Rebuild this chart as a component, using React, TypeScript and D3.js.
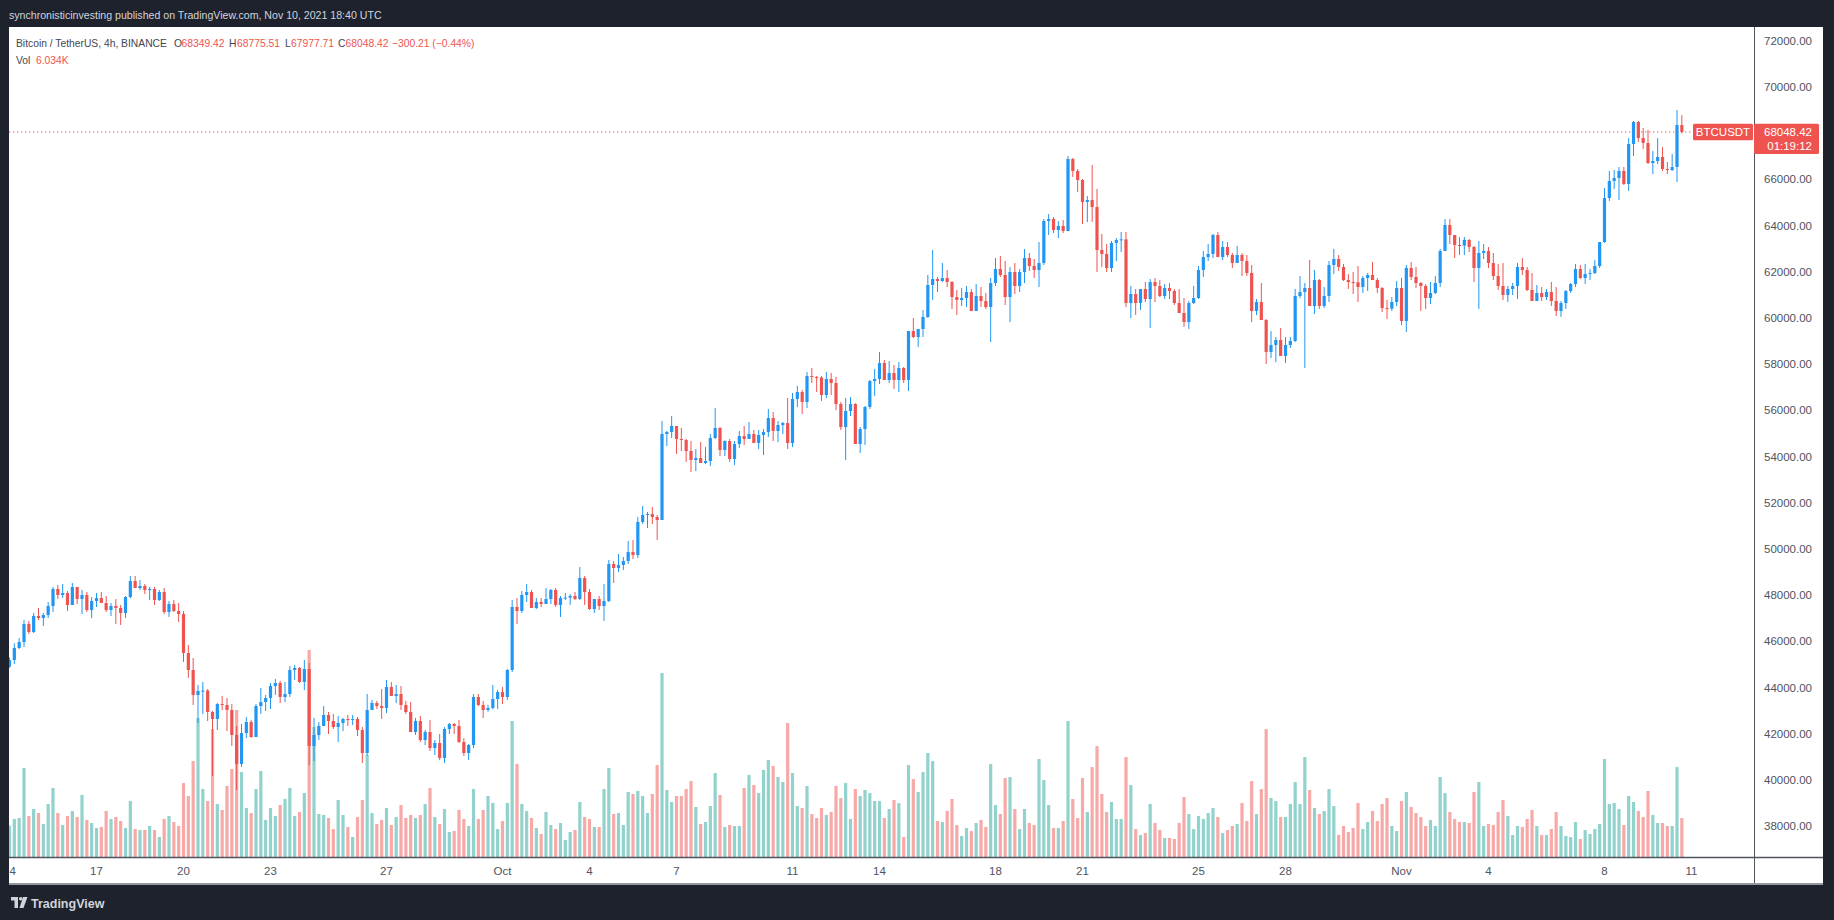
import React, { useEffect, useRef } from "react";
import * as d3 from "d3";

// 4h BTCUSDT candles, Sep 14 2021 00:00 UTC -> Nov 10 2021 16:00 UTC (open = previous close)
const SERIES_START = Date.UTC(2021, 8, 14);
const BAR_MS = 4 * 3600 * 1000;
const DAY_MS = 24 * 3600 * 1000;
const FIRST_OPEN = 44901;

const closes = [
	45190, 45710, 45969, 46748, 46402, 47095, 47008, 47138, 47528, 48264,
	48004, 48090, 47571, 48350, 47831, 48004, 47354, 47744, 47874, 47658,
	47354, 47528, 47441, 47225, 47917, 48610, 48307, 48394, 48220, 48264,
	47787, 48134, 47268, 47614, 47311, 47181, 45493, 44757, 43675, 43848,
	43870, 42939, 42636, 43285, 43242, 43025, 41943, 40688, 42030, 42506,
	41857, 43199, 43372, 43545, 44065, 44195, 43589, 43718, 44757, 44844,
	44238, 44801, 41467, 41944, 42333, 42809, 42550, 42290, 42463, 42636,
	42593, 42636, 42160, 41164, 43026, 43329, 43199, 43112, 44021, 43632,
	43718, 43242, 42939, 42073, 42550, 41727, 42073, 41381, 41597, 40948,
	42203, 42420, 42333, 41641, 41164, 41511, 43589, 43242, 43026, 43112,
	43502, 43805, 43589, 44758, 47485, 47312, 48004, 48134, 47442, 47701,
	47615, 47831, 48221, 47572, 47874, 47890, 47961, 47831, 48740, 48134,
	47398, 47831, 47528, 47745, 49347, 49173, 49303, 49476, 49866, 49736,
	51165, 51468, 51511, 51381, 51251, 54974, 55061, 55320, 54758, 54715,
	54238, 53849, 53935, 53719, 53805, 54801, 55234, 54282, 54671, 53892,
	54541, 54887, 54757, 54974, 54584, 54930, 55060, 55666, 55104, 55363,
	55450, 54584, 56489, 56792, 56359, 57485, 57442, 57420, 56662, 57355,
	57182, 56272, 55277, 55969, 56272, 54541, 55190, 56143, 57268, 57355,
	58047, 57312, 57614, 57312, 57831, 57312, 59433, 59173, 59519, 60039,
	61424, 61684, 61597, 61727, 61554, 60904, 60775, 60861, 61121, 60298,
	60948, 60731, 60471, 61510, 62116, 61857, 60904, 61987, 61381, 61987,
	62593, 62247, 62073, 62376, 64194, 64281, 63805, 63978, 63762, 66878,
	66359, 65969, 65017, 65103, 64800, 62939, 62766, 62160, 63242, 63372,
	63400, 60645, 61034, 60645, 61251, 60818, 61554, 61381, 60948, 61294,
	61164, 60645, 60212, 59822, 60645, 60861, 62073, 62636, 62766, 63589,
	62636, 63069, 62723, 62377, 62723, 62463, 61944, 60299, 60688, 59909,
	58524, 58827, 59043, 58351, 58827, 59000, 60948, 61121, 61294, 60515,
	61641, 60515, 60948, 62290, 62550, 62204, 61641, 61554, 61540, 61338,
	61727, 61857, 61641, 61294, 60429, 60400, 60688, 61294, 59866, 62160,
	61771, 61511, 61381, 60862, 61078, 61511, 62896, 64022, 63588, 63155,
	63130, 63372, 63069, 62160, 62809, 62896, 62376, 61814, 61381, 60991,
	61251, 61381, 62203, 62073, 61208, 60731, 61078, 60904, 61121, 60731,
	60298, 60645, 61164, 61467, 62116, 61727, 61900, 61943, 62246, 63285,
	65190, 65926, 66056, 66359, 65796, 67528, 68480, 67787, 67571, 66705,
	66792, 66965, 66446, 66402, 66532, 68349.42, 68048.42,
];

const highs = [
	45300, 45912, 46142, 46922, 46878, 47225, 47441, 47225, 47701, 48350,
	48437, 48480, 48177, 48523, 48350, 48220, 48134, 47917, 48090, 48134,
	47961, 47658, 47831, 47571, 47961, 48826, 48826, 48653, 48480, 48350,
	48350, 48220, 48307, 47744, 47787, 47658, 47311, 45839, 45277, 44108,
	44238, 43935, 42982, 43328, 43631, 43545, 43285, 42333, 42420, 42723,
	42593, 43286, 43978, 43675, 44195, 44368, 44281, 44238, 44931, 44974,
	44887, 45190, 45060, 42679, 42506, 43199, 42939, 42853, 42766, 42679,
	42809, 42809, 42723, 42290, 43718, 43459, 43415, 43935, 44325, 44238,
	44108, 44065, 43415, 43372, 42679, 42766, 42160, 42593, 41727, 41987,
	42290, 42463, 42463, 42593, 41814, 41554, 43718, 43718, 43415, 43250,
	44108, 43892, 44022, 44801, 47788, 47874, 48178, 48481, 48221, 47874,
	47874, 48308, 48264, 48308, 47961, 48091, 48047, 48134, 49216, 48827,
	48264, 47831, 47961, 48481, 49520, 49476, 49779, 49649, 50342, 50385,
	51381, 51857, 51598, 51814, 51468, 55537, 55104, 55753, 55320, 55234,
	54758, 54671, 54325, 54628, 54411, 54974, 56100, 55277, 54700, 54757,
	54671, 55104, 55320, 55493, 55147, 55147, 55190, 56056, 55926, 55536,
	55493, 56532, 56749, 57052, 56879, 57658, 57831, 57485, 57485, 57658,
	57614, 57442, 56359, 56532, 56575, 56316, 55277, 56186, 57312, 57788,
	58524, 58177, 58134, 57961, 58091, 57874, 59433, 59996, 59519, 60342,
	61857, 62939, 61770, 62376, 62073, 61597, 61207, 61294, 61381, 61251,
	61467, 61337, 61078, 61727, 62593, 62679, 62463, 62203, 62376, 62116,
	62982, 62809, 62549, 63285, 64281, 64497, 64368, 64194, 64238, 67008,
	66922, 66445, 66013, 65277, 66619, 65580, 63632, 63199, 63329, 63459,
	63718, 63718, 61381, 61251, 61251, 61554, 61684, 61727, 61640, 61467,
	61511, 61251, 61251, 60861, 60731, 61381, 62247, 62896, 63199, 63632,
	63719, 63329, 63286, 62809, 63113, 62810, 62723, 62290, 60818, 61511,
	59952, 59433, 59173, 59563, 59173, 59173, 61251, 61814, 61511, 62506,
	62074, 61684, 61338, 62463, 62983, 62723, 62333, 61900, 61987, 62247,
	61814, 61944, 62420, 61727, 61337, 60775, 60905, 61598, 61727, 62290,
	62420, 62204, 61554, 61468, 61554, 61814, 62983, 64281, 64281, 63588,
	63502, 63502, 63415, 63112, 63329, 63199, 63069, 62809, 62333, 62376,
	61381, 61511, 62376, 62593, 62203, 61943, 61424, 61337, 61251, 61554,
	61337, 60731, 61207, 61511, 62333, 62290, 62333, 62116, 62506, 63285,
	65623, 66359, 66402, 66532, 66532, 67788, 68524, 68524, 68221, 68134,
	67225, 67788, 67398, 66748, 67095, 69000, 68775.51,
];

const lows = [
	44850, 45017, 45666, 45753, 46316, 46359, 46922, 46662, 47008, 47268,
	47831, 47874, 47311, 47571, 47614, 47181, 47268, 47008, 47484, 47658,
	47268, 47095, 46748, 46705, 47008, 47874, 48307, 48220, 48047, 47787,
	47571, 47744, 47181, 47051, 47268, 46835, 45103, 44411, 43242, 42463,
	42852, 42549, 40168, 42160, 43025, 42116, 41467, 39562, 40558, 41813,
	41814, 41857, 42853, 42982, 43069, 43675, 43329, 43372, 43589, 44325,
	44195, 43891, 40645, 40818, 41727, 42333, 41987, 42203, 41641, 42117,
	42333, 42376, 41900, 40731, 41035, 43026, 43069, 42636, 42896, 43632,
	43329, 43026, 42853, 42073, 41944, 41641, 41511, 41251, 41078, 40861,
	40731, 41987, 41987, 41597, 41035, 40861, 41381, 43199, 42679, 42950,
	43055, 43069, 43286, 43459, 44671, 46749, 47225, 47701, 47442, 47398,
	47485, 47615, 47615, 47485, 47052, 47788, 47572, 47788, 47788, 47572,
	47355, 47225, 47355, 46879, 47701, 48524, 49000, 49087, 49347, 49563,
	49606, 51078, 50905, 51078, 50385, 51251, 54455, 54801, 54108, 54238,
	53762, 53329, 53372, 53719, 53676, 53589, 54758, 54022, 54022, 53762,
	53632, 54368, 54498, 54757, 54584, 54324, 54065, 54844, 54671, 54627,
	54974, 54324, 54411, 56143, 55839, 56099, 57182, 56792, 56403, 56532,
	56662, 56013, 55147, 53848, 55753, 54541, 54151, 54498, 56056, 56619,
	57138, 57312, 57182, 56922, 56792, 57182, 56835, 59130, 58740, 59173,
	60000, 60775, 61121, 61554, 61337, 60385, 60125, 60515, 60472, 60298,
	60298, 60471, 60385, 58956, 61381, 61770, 60558, 59822, 61034, 61121,
	61511, 62030, 61727, 61337, 62290, 63588, 63675, 63459, 63675, 63762,
	66099, 65450, 64064, 64151, 64151, 61987, 62203, 61987, 61987, 62463,
	62852, 60471, 59995, 60125, 60342, 60688, 59562, 60688, 60904, 60818,
	60818, 60558, 60212, 59606, 59519, 60602, 60818, 61770, 62463, 62593,
	62636, 62506, 62636, 62160, 62377, 61814, 61814, 59823, 60126, 59909,
	58004, 58264, 58091, 58351, 58047, 58697, 58957, 60862, 57831, 60515,
	60169, 60385, 60429, 60688, 61900, 62030, 61598, 61251, 61034, 60688,
	61078, 61164, 61641, 61078, 60256, 59953, 60299, 60515, 59693, 59390,
	61641, 61294, 60299, 60385, 60602, 61035, 61338, 62896, 63199, 62593,
	62723, 62723, 62853, 61554, 60385, 62549, 62160, 61640, 61208, 60775,
	60688, 60991, 60818, 61857, 61164, 60731, 60731, 60731, 60775, 60515,
	60082, 60039, 60385, 61078, 61337, 61684, 61467, 61640, 61900, 62160,
	63242, 65060, 65580, 65104, 65753, 65493, 67008, 67614, 67311, 66662,
	66229, 66662, 66359, 66229, 66359, 65883, 67977.71,
];

// volume in thousands of BTC
const volumes = [
	4.85, 5.88, 6.04, 13.78, 6.35, 7.43, 6.81, 5.11, 8.2, 10.68,
	6.81, 4.95, 6.35, 7.12, 6.19, 9.6, 5.73, 5.26, 4.49, 4.64,
	7.12, 5.88, 6.19, 5.57, 4.49, 8.67, 4.33, 4.18, 4.18, 4.8,
	4.18, 3.1, 5.88, 6.35, 5.42, 4.8, 11.45, 9.44, 14.86, 21.52,
	10.53, 8.67, 19.81, 8.2, 7.28, 10.99, 13.62, 22.76, 13.16, 7.59,
	6.81, 10.53, 13.31, 5.73, 7.59, 6.35, 8.05, 8.98, 10.68, 6.35,
	6.97, 9.91, 32.04, 20.12, 6.66, 6.5, 6.04, 4.33, 8.82, 6.5,
	4.64, 3.1, 6.19, 8.82, 15.79, 6.81, 5.11, 5.73, 7.59, 4.95,
	6.19, 8.05, 6.04, 6.5, 6.04, 6.5, 8.2, 10.68, 6.19, 5.11,
	7.43, 3.87, 4.02, 7.28, 5.88, 4.8, 10.53, 5.88, 7.28, 9.44,
	8.36, 4.33, 5.57, 8.36, 21.05, 14.4, 8.2, 7.12, 6.04, 4.49,
	3.56, 6.97, 4.95, 4.33, 5.26, 2.63, 3.87, 4.18, 8.51, 6.19,
	5.88, 4.64, 4.64, 10.53, 13.78, 6.66, 6.81, 4.95, 10.06, 9.75,
	10.22, 9.44, 6.81, 9.75, 14.24, 28.48, 10.37, 8.51, 9.44, 9.44,
	10.53, 11.77, 7.74, 5.11, 5.42, 7.89, 13.0, 9.6, 4.64, 4.95,
	4.8, 4.8, 10.68, 12.69, 11.15, 9.91, 13.47, 15.02, 14.09, 12.38,
	11.61, 20.74, 13.0, 7.89, 7.59, 10.99, 6.66, 6.04, 7.59, 6.5,
	6.97, 10.99, 9.13, 11.45, 5.88, 10.53, 9.44, 10.37, 9.9, 8.66,
	8.66, 6.03, 7.43, 8.82, 8.35, 3.09, 14.23, 12.07, 10.06, 13.15,
	16.09, 14.85, 5.57, 5.41, 7.12, 8.97, 4.95, 3.25, 4.49, 4.02,
	5.26, 5.72, 4.64, 14.39, 8.04, 6.65, 12.22, 12.38, 7.43, 4.33,
	7.43, 5.26, 4.95, 15.16, 11.91, 8.04, 4.49, 4.49, 5.57, 21.04,
	8.97, 6.03, 12.22, 6.96, 13.92, 17.17, 9.75, 6.96, 8.51, 5.88,
	5.88, 15.47, 11.14, 4.33, 3.4, 3.71, 8.2, 5.26, 4.18, 2.94,
	2.94, 2.78, 5.26, 9.28, 6.65, 4.33, 6.34, 5.88, 6.81, 7.58,
	6.19, 3.71, 4.18, 4.8, 5.11, 8.35, 5.57, 11.76, 6.65, 10.52,
	19.8, 9.13, 8.66, 6.19, 6.19, 8.2, 11.6, 8.2, 15.47, 10.37,
	7.58, 6.65, 7.12, 10.52, 7.89, 3.4, 4.8, 3.87, 4.49, 8.35,
	4.33, 5.41, 7.12, 5.57, 8.2, 9.13, 4.8, 4.02, 8.66, 10.06,
	7.74, 6.81, 6.19, 4.8, 5.72, 4.8, 12.38, 9.9, 6.96, 5.88,
	5.41, 5.41, 5.26, 10.06, 11.6, 4.8, 5.11, 4.95, 6.96, 8.82,
	6.34, 3.4, 4.8, 4.64, 5.88, 7.27, 4.8, 3.4, 3.4, 4.33,
	6.96, 4.8, 3.25, 3.09, 5.41, 2.78, 4.18, 3.56, 4.33, 5.11,
	15.16, 8.2, 8.35, 7.43, 4.95, 9.44, 8.51, 7.12, 6.19, 10.21,
	6.5, 5.26, 5.26, 4.8, 4.8, 13.92, 6.034,
];

const dateTicks = [
	"2021-09-14", "2021-09-17", "2021-09-20", "2021-09-23", "2021-09-27", "2021-10-01",
	"2021-10-04", "2021-10-07", "2021-10-11", "2021-10-14", "2021-10-18", "2021-10-21",
	"2021-10-25", "2021-10-28", "2021-11-01", "2021-11-04", "2021-11-08", "2021-11-11",
];
const priceTicks = [
	38000, 40000, 42000, 44000, 46000, 48000, 50000, 52000, 54000,
	56000, 58000, 60000, 62000, 64000, 66000, 68000, 70000, 72000,
];

const headerText = "synchronisticinvesting published on TradingView.com, Nov 10, 2021 18:40 UTC";
const symbolText = "Bitcoin / TetherUS, 4h, BINANCE";
const ohlcLabels = ["O", "H", "L", "C"];
const ohlcValues = ["68349.42", "68775.51", "67977.71", "68048.42"];
const changeText = "\u2212300.21 (\u22120.44%)";
const volText = "6.034K";
const lastPrice = 68048.42;
const countdown = "01:19:12";

const W = 1834;
const H = 920;
const FONT = "'Liberation Sans', Arial, sans-serif";
const UP = "#2196f3";
const DOWN = "#ef5350";
const VOL_UP = "#92d2cc";
const VOL_DOWN = "#f7a9a7";
const DARK = "#1e222d";
const AXIS_TEXT = "#50535e";
const LEGEND_TEXT = "#434651";

export default function App() {
	const svgRef = useRef<SVGSVGElement | null>(null);

	useEffect(() => {
		if (!svgRef.current) return;
		document.body.style.margin = "0";

		const pane = { left: 9, right: 1754, top: 27, bottom: 857 };
		const timeBottom = 884;
		const outerRight = 1823;

		const candles = closes.map((c, i) => ({
			t: SERIES_START + i * BAR_MS,
			o: i === 0 ? FIRST_OPEN : closes[i - 1],
			h: highs[i],
			l: lows[i],
			c,
			v: volumes[i],
		}));

		// 29px per day, first bar (Sep 14 00:00) centred at x=9.5
		const x = d3
			.scaleUtc()
			.domain([new Date(SERIES_START), new Date(SERIES_START + 58 * DAY_MS)])
			.range([9.5, 9.5 + 58 * 29]);
		const y = d3.scaleLinear().domain([38000, 72000]).range([826.1, 40.7]);
		const yVol = d3
			.scaleLinear()
			.domain([0, d3.max(volumes) as number])
			.range([pane.bottom, 650]);

		const svg = d3.select(svgRef.current);
		svg.selectAll("*").remove();

		// frame
		svg.append("rect").attr("width", W).attr("height", H).attr("fill", DARK);
		svg
			.append("rect")
			.attr("x", pane.left)
			.attr("y", pane.top)
			.attr("width", outerRight - pane.left)
			.attr("height", timeBottom - pane.top)
			.attr("fill", "#ffffff");

		const defs = svg.append("defs");
		defs
			.append("clipPath")
			.attr("id", "pane-clip")
			.append("rect")
			.attr("x", pane.left)
			.attr("y", pane.top)
			.attr("width", pane.right - pane.left)
			.attr("height", pane.bottom - pane.top);
		defs
			.append("clipPath")
			.attr("id", "time-clip")
			.append("rect")
			.attr("x", pane.left)
			.attr("y", pane.bottom)
			.attr("width", pane.right - pane.left)
			.attr("height", timeBottom - pane.bottom);

		const plot = svg.append("g").attr("clip-path", "url(#pane-clip)");

		// volume
		plot
			.append("g")
			.selectAll("rect")
			.data(candles)
			.enter()
			.append("rect")
			.attr("x", (d) => x(new Date(d.t)) - 1.6)
			.attr("width", 3.2)
			.attr("y", (d) => yVol(d.v))
			.attr("height", (d) => pane.bottom - yVol(d.v))
			.attr("fill", (d) => (d.c >= d.o ? VOL_UP : VOL_DOWN));

		// candles
		const cg = plot.append("g");
		cg.selectAll("line")
			.data(candles)
			.enter()
			.append("line")
			.attr("x1", (d) => x(new Date(d.t)))
			.attr("x2", (d) => x(new Date(d.t)))
			.attr("y1", (d) => y(d.h))
			.attr("y2", (d) => y(d.l))
			.attr("stroke", (d) => (d.c >= d.o ? UP : DOWN))
			.attr("stroke-width", 1);
		cg.selectAll("rect")
			.data(candles)
			.enter()
			.append("rect")
			.attr("x", (d) => x(new Date(d.t)) - 1.6)
			.attr("width", 3.2)
			.attr("y", (d) => y(Math.max(d.o, d.c)))
			.attr("height", (d) => Math.max(1, Math.abs(y(d.o) - y(d.c))))
			.attr("fill", (d) => (d.c >= d.o ? UP : DOWN));

		// last price line + symbol tag
		const yLast = y(lastPrice);
		plot
			.append("line")
			.attr("x1", pane.left)
			.attr("x2", 1693)
			.attr("y1", yLast)
			.attr("y2", yLast)
			.attr("stroke", DOWN)
			.attr("stroke-width", 1)
			.attr("stroke-dasharray", "1.3 2.7");
		svg
			.append("rect")
			.attr("x", 1693)
			.attr("y", yLast - 8.3)
			.attr("width", 60)
			.attr("height", 16.6)
			.attr("rx", 1.5)
			.attr("fill", DOWN);
		svg
			.append("text")
			.attr("x", 1723)
			.attr("y", yLast)
			.attr("dy", "0.36em")
			.attr("text-anchor", "middle")
			.attr("font-family", FONT)
			.attr("font-size", 11.5)
			.attr("fill", "#ffffff")
			.text("BTCUSDT");

		// legend
		const legend = svg
			.append("g")
			.attr("font-family", FONT)
			.attr("font-size", 10.3)
			.attr("dominant-baseline", "central");
		legend.append("text").attr("x", 16).attr("y", 43.3).attr("fill", LEGEND_TEXT).text(symbolText);
		const labelX = [174, 229, 285, 338];
		const valueX = [181.5, 237, 291, 345.5];
		ohlcLabels.forEach((lab, k) => {
			legend.append("text").attr("x", labelX[k]).attr("y", 43.3).attr("fill", LEGEND_TEXT).text(lab);
			legend.append("text").attr("x", valueX[k]).attr("y", 43.3).attr("fill", DOWN).text(ohlcValues[k]);
		});
		legend.append("text").attr("x", 392).attr("y", 43.3).attr("fill", DOWN).text(changeText);
		legend.append("text").attr("x", 16).attr("y", 60).attr("fill", LEGEND_TEXT).text("Vol");
		legend.append("text").attr("x", 36).attr("y", 60).attr("fill", DOWN).text(volText);

		// separators
		svg
			.append("line")
			.attr("x1", pane.right + 0.5)
			.attr("x2", pane.right + 0.5)
			.attr("y1", pane.top)
			.attr("y2", timeBottom)
			.attr("stroke", "#50535e")
			.attr("stroke-width", 1);
		svg
			.append("line")
			.attr("x1", pane.left)
			.attr("x2", outerRight)
			.attr("y1", pane.bottom + 0.5)
			.attr("y2", pane.bottom + 0.5)
			.attr("stroke", "#50535e")
			.attr("stroke-width", 1.5);
		svg
			.append("line")
			.attr("x1", pane.left)
			.attr("x2", outerRight)
			.attr("y1", timeBottom)
			.attr("y2", timeBottom)
			.attr("stroke", "#9598a1")
			.attr("stroke-width", 2);

		// price axis
		svg
			.append("g")
			.attr("font-family", FONT)
			.attr("font-size", 11.5)
			.attr("fill", AXIS_TEXT)
			.selectAll("text")
			.data(priceTicks)
			.enter()
			.append("text")
			.attr("x", 1812)
			.attr("y", (d) => y(d))
			.attr("dy", "0.36em")
			.attr("text-anchor", "end")
			.text((d) => d3.format(".2f")(d));

		// last price tag on axis
		svg
			.append("rect")
			.attr("x", pane.right)
			.attr("y", yLast - 8.3)
			.attr("width", 65)
			.attr("height", 30.3)
			.attr("rx", 1.5)
			.attr("fill", DOWN);
		svg
			.append("text")
			.attr("x", 1812)
			.attr("y", yLast)
			.attr("dy", "0.36em")
			.attr("text-anchor", "end")
			.attr("font-family", FONT)
			.attr("font-size", 11.5)
			.attr("fill", "#ffffff")
			.text(d3.format(".2f")(lastPrice));
		svg
			.append("text")
			.attr("x", 1812)
			.attr("y", yLast + 13.7)
			.attr("dy", "0.36em")
			.attr("text-anchor", "end")
			.attr("font-family", FONT)
			.attr("font-size", 11.5)
			.attr("fill", "#ffffff")
			.text(countdown);

		// time axis
		const parse = d3.utcParse("%Y-%m-%d");
		const fmt = (d: Date) => (d.getUTCDate() === 1 ? d3.utcFormat("%b")(d) : d3.utcFormat("%-d")(d));
		svg
			.append("g")
			.attr("clip-path", "url(#time-clip)")
			.attr("font-family", FONT)
			.attr("font-size", 11.5)
			.attr("fill", AXIS_TEXT)
			.selectAll("text")
			.data(dateTicks.map((s) => parse(s) as Date))
			.enter()
			.append("text")
			.attr("x", (d) => x(d))
			.attr("y", 871)
			.attr("dy", "0.36em")
			.attr("text-anchor", "middle")
			.text(fmt);

		// header / footer
		svg
			.append("text")
			.attr("x", 9)
			.attr("y", 15)
			.attr("dy", "0.36em")
			.attr("font-family", FONT)
			.attr("font-size", 10.6)
			.attr("fill", "#d1d4dc")
			.text(headerText);

		const logo = svg.append("g").attr("fill", "#d1d4dc");
		logo.append("rect").attr("x", 11).attr("y", 897).attr("width", 7).attr("height", 3.5);
		logo.append("rect").attr("x", 14.5).attr("y", 897).attr("width", 3.5).attr("height", 11);
		logo.append("circle").attr("cx", 20.7).attr("cy", 898.8).attr("r", 1.8);
		logo.append("path").attr("d", "M23,897 L27.5,897 L23.5,908 L19.5,908 Z");
		svg
			.append("text")
			.attr("x", 31)
			.attr("y", 903)
			.attr("dy", "0.36em")
			.attr("font-family", FONT)
			.attr("font-size", 12.5)
			.attr("font-weight", 600)
			.attr("fill", "#d1d4dc")
			.text("TradingView");
	}, []);

	return (
		<svg
			ref={svgRef}
			width={W}
			height={H}
			style={{ position: "absolute", left: 0, top: 0, display: "block" }}
		/>
	);
}
